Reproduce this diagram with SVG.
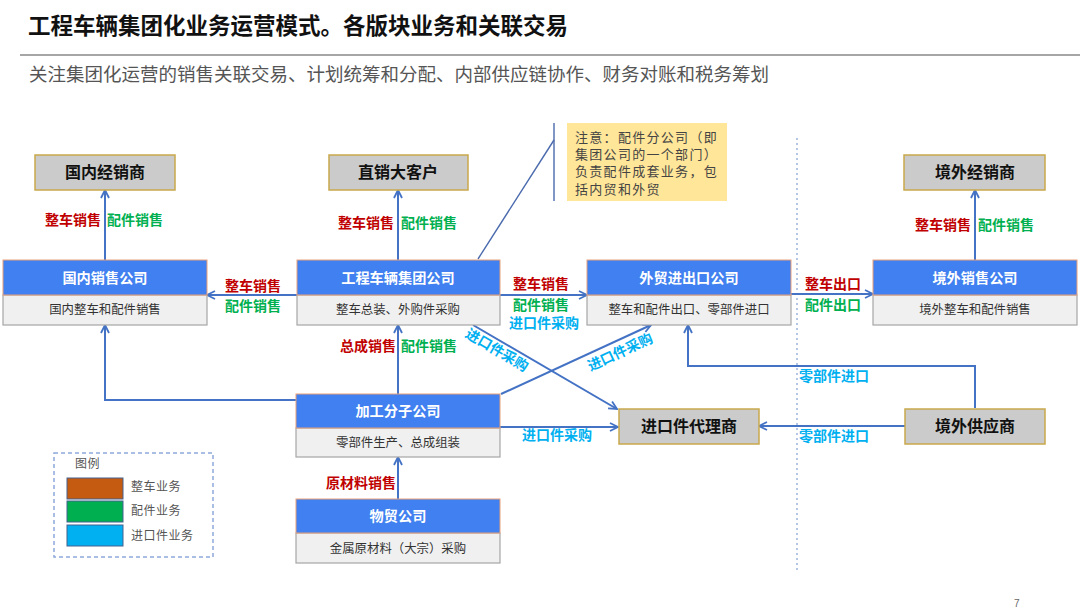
<svg xmlns="http://www.w3.org/2000/svg" width="1080" height="613" viewBox="0 0 1080 613">
<defs>
<style>
text{font-family:"Noto Sans CJK SC","Noto Sans",sans-serif}
.title{font-size:22.5px;font-weight:bold;fill:#111}
.sub{font-size:18.5px;fill:#555}
.hd{fill:#4080f0;stroke:#e8a07a;stroke-width:1}
.bd{fill:#f0f0f0;stroke:#a6a6a6;stroke-width:1.2}
.hdt{font-size:14.2px;font-weight:bold;fill:#fff;text-anchor:middle}
.bdt{font-size:12.4px;fill:#333;text-anchor:middle}
.gb{fill:#cbcbcb;stroke:#c9a94c;stroke-width:1.5}
.gbt{font-size:16px;font-weight:bold;fill:#111;text-anchor:middle}
.ln{fill:none;stroke:#4472c4;stroke-width:2}
.r{font-size:14px;font-weight:bold;fill:#c00000}
.g{font-size:14px;font-weight:bold;fill:#00b050}
.c{font-size:14px;font-weight:bold;fill:#00b0f0}
.note{font-size:13px;fill:#444;letter-spacing:1.3px}
.lg{font-size:12px;fill:#555;letter-spacing:0.5px}
</style>
<marker id="arr" viewBox="0 0 10 10" refX="9" refY="5" markerWidth="5" markerHeight="5" orient="auto-start-reverse" markerUnits="strokeWidth">
<path d="M1,1 L9,5 L1,9" fill="none" stroke="#4472c4" stroke-width="1.8"/>
</marker>
</defs>
<rect width="1080" height="613" fill="#fff"/>
<text class="title" x="28" y="34">工程车辆集团化业务运营模式。各版块业务和关联交易</text>
<line x1="20" y1="55" x2="1080" y2="55" stroke="#a6a6a6" stroke-width="2"/>
<text class="sub" x="29" y="81">关注集团化运营的销售关联交易、计划统筹和分配、内部供应链协作、财务对账和税务筹划</text>
<line x1="797" y1="138" x2="797" y2="570" stroke="#9db3dd" stroke-width="1.5" stroke-dasharray="2 3"/>

<g id="note">
<rect x="567" y="123" width="160" height="78" fill="#ffe699"/>
<text class="note" x="575" y="142">注意：配件分公司（即</text>
<text class="note" x="575" y="159">集团公司的一个部门）</text>
<text class="note" x="575" y="176">负责配件成套业务，包</text>
<text class="note" x="575" y="194">括内贸和外贸</text>
<line x1="554" y1="123" x2="554" y2="201" stroke="#4a6aad" stroke-width="1.4"/>
<line x1="478" y1="259" x2="554" y2="140" stroke="#4a6aad" stroke-width="1.4"/>
</g>

<g id="connectors">
<line class="ln" x1="105" y1="260" x2="105" y2="190" marker-end="url(#arr)"/>
<line class="ln" x1="398" y1="260" x2="398" y2="190" marker-end="url(#arr)"/>
<line class="ln" x1="975" y1="260" x2="975" y2="190" marker-end="url(#arr)"/>
<line class="ln" x1="297" y1="295" x2="207" y2="295" marker-end="url(#arr)"/>
<line class="ln" x1="500" y1="295" x2="587" y2="295" marker-end="url(#arr)"/>
<line class="ln" x1="791" y1="294" x2="873" y2="294" marker-end="url(#arr)"/>
<line class="ln" x1="398" y1="394" x2="398" y2="325" marker-end="url(#arr)"/>
<line class="ln" x1="398" y1="499" x2="398" y2="457" marker-end="url(#arr)"/>
<polyline class="ln" points="296,400 105,400 105,325" marker-end="url(#arr)"/>
<line class="ln" x1="473" y1="325" x2="617" y2="409" marker-end="url(#arr)"/>
<line class="ln" x1="501" y1="394" x2="651" y2="325" marker-end="url(#arr)"/>
<line class="ln" x1="500" y1="427" x2="618" y2="427" marker-end="url(#arr)"/>
<polyline class="ln" points="975,408 975,366 688,366 688,325" marker-end="url(#arr)"/>
<line class="ln" x1="905" y1="426" x2="759" y2="426" marker-end="url(#arr)"/>

<text class="r" x="101" y="225" text-anchor="end">整车销售</text>
<text class="g" x="107" y="225">配件销售</text>
<text class="r" x="394" y="228" text-anchor="end">整车销售</text>
<text class="g" x="401" y="228">配件销售</text>
<text class="r" x="971" y="230" text-anchor="end">整车销售</text>
<text class="g" x="978" y="230">配件销售</text>
<text class="r" x="225" y="291">整车销售</text>
<text class="g" x="225" y="311">配件销售</text>
<text class="r" x="513" y="289">整车销售</text>
<text class="g" x="513" y="310">配件销售</text>
<text class="c" x="509" y="328">进口件采购</text>
<text class="r" x="805" y="289">整车出口</text>
<text class="g" x="805" y="310">配件出口</text>
<text class="r" x="396" y="351" text-anchor="end">总成销售</text>
<text class="g" x="401" y="351">配件销售</text>
<text class="r" x="396" y="488" text-anchor="end">原材料销售</text>
<text class="c" x="497" y="355" text-anchor="middle" transform="rotate(30.6 497 350)">进口件采购</text>
<text class="c" x="620" y="357" text-anchor="middle" transform="rotate(-25 620 352)">进口件采购</text>
<text class="c" x="522" y="440">进口件采购</text>
<text class="c" x="799" y="381">零部件进口</text>
<text class="c" x="799" y="441">零部件进口</text>
</g>

<g id="n-guonei-jxs"><rect class="gb" x="35" y="155" width="140" height="35"/><text class="gbt" x="105" y="178">国内经销商</text></g>
<g id="n-zhixiao"><rect class="gb" x="329" y="155" width="139" height="35"/><text class="gbt" x="398" y="178">直销大客户</text></g>
<g id="n-jingwai-jxs"><rect class="gb" x="904" y="155" width="141" height="35"/><text class="gbt" x="975" y="178">境外经销商</text></g>
<g id="n-jinkou"><rect class="gb" x="619" y="409" width="140" height="35"/><text class="gbt" x="689" y="432">进口件代理商</text></g>
<g id="n-gongying"><rect class="gb" x="905" y="409" width="140" height="35"/><text class="gbt" x="975" y="432">境外供应商</text></g>

<g id="n-guonei-xs"><rect class="bd" x="3" y="295" width="204" height="30"/><rect class="hd" x="3" y="260" width="204" height="35"/><text class="hdt" x="105" y="283">国内销售公司</text><text class="bdt" x="105" y="314">国内整车和配件销售</text></g>
<g id="n-jituan"><rect class="bd" x="297" y="295" width="203" height="30"/><rect class="hd" x="297" y="260" width="203" height="35"/><text class="hdt" x="398" y="283">工程车辆集团公司</text><text class="bdt" x="398" y="314">整车总装、外购件采购</text></g>
<g id="n-waimao"><rect class="bd" x="587" y="295" width="204" height="30"/><rect class="hd" x="587" y="260" width="204" height="35"/><text class="hdt" x="689" y="283">外贸进出口公司</text><text class="bdt" x="689" y="314">整车和配件出口、零部件进口</text></g>
<g id="n-jingwai-xs"><rect class="bd" x="873" y="295" width="204" height="30"/><rect class="hd" x="873" y="260" width="204" height="35"/><text class="hdt" x="975" y="283">境外销售公司</text><text class="bdt" x="975" y="314">境外整车和配件销售</text></g>
<g id="n-jiagong"><rect class="bd" x="296" y="428" width="204" height="29"/><rect class="hd" x="296" y="394" width="204" height="34"/><text class="hdt" x="398" y="416">加工分子公司</text><text class="bdt" x="398" y="447">零部件生产、总成组装</text></g>
<g id="n-wumao"><rect class="bd" x="296" y="533" width="204" height="30"/><rect class="hd" x="296" y="499" width="204" height="34"/><text class="hdt" x="398" y="521">物贸公司</text><text class="bdt" x="398" y="553">金属原材料（大宗）采购</text></g>

<g id="legend">
<rect x="54" y="453" width="159" height="104" fill="none" stroke="#8ea9db" stroke-width="1.5" stroke-dasharray="4 3"/>
<text class="lg" x="75" y="468">图例</text>
<rect x="67" y="478" width="56" height="21" fill="#c55a11" stroke="#44608f" stroke-width="1"/>
<rect x="67" y="501" width="56" height="21" fill="#00b050" stroke="#44608f" stroke-width="1"/>
<rect x="67" y="525" width="56" height="21" fill="#00b0f0" stroke="#44608f" stroke-width="1"/>
<text class="lg" x="131" y="491">整车业务</text>
<text class="lg" x="131" y="515">配件业务</text>
<text class="lg" x="131" y="540">进口件业务</text>
</g>
<text x="1014" y="607" font-size="10" fill="#666" style="font-family:'Liberation Sans',sans-serif">7</text>
</svg>
